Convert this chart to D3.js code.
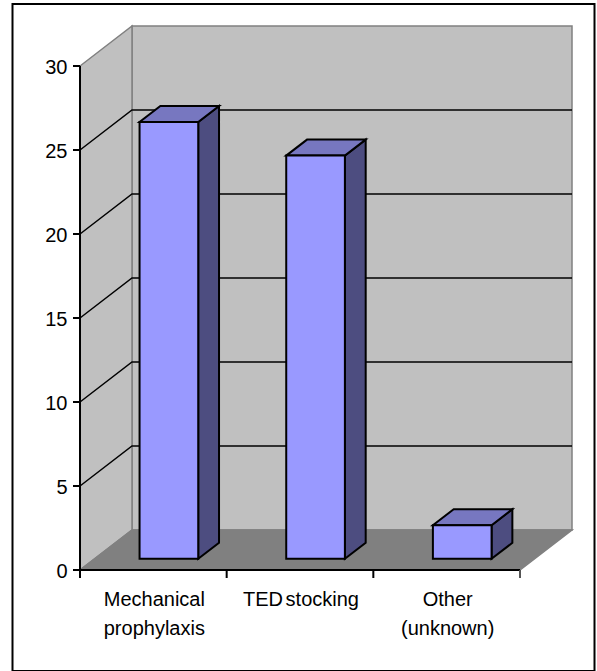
<!DOCTYPE html>
<html>
<head>
    <meta charset="utf-8">
    <title>Mechanical prophylaxis</title>
    <style>
        html, body { margin: 0; padding: 0; background: #fff; }
        svg { display: block; }
        text { font-family: "Liberation Sans", Arial, sans-serif; font-size: 20px; fill: #000; }
    </style>
</head>
<body>
<script src="https://cdn.jsdelivr.net/npm/d3@7"></script>
<script>
    // Valeurs du graphique
    var categories = ["Mechanical prophylaxis", "TED stocking", "Other (unknown)"];
    var labelLines = [["Mechanical", "prophylaxis"], ["TED stocking"], ["Other", "(unknown)"]];
    var values = [26, 24, 2];
    var yTicks = [0, 5, 10, 15, 20, 25, 30];

    var width = 597,
        height = 671,
        depthX = 52,
        depthY = 40;

    var svg = d3.select("body").append("svg")
        .attr("width", width)
        .attr("height", height);

    var x = d3.scaleBand().domain(categories).range([81, 521]).paddingInner(0.6).paddingOuter(0.3);
    var xStep = d3.scaleBand().domain(categories).range([80, 520]);
    var y = d3.scaleLinear().domain([0, 30]).range([570, 66]);

    // Projection oblique : d = 0 sur le plan avant, d = 1 sur le mur du fond
    function pt(px, v, d) {
        return [px + d * depthX, y(v) - d * depthY];
    }
    var line = d3.line();
    function poly(points, fill, stroke, sw) {
        return svg.append("path")
            .attr("d", line(points) + "Z")
            .attr("fill", fill)
            .attr("stroke", stroke || "none")
            .attr("stroke-width", sw || 0)
            .attr("stroke-linejoin", "miter");
    }
    function segment(points, stroke, sw) {
        return svg.append("path")
            .attr("d", line(points))
            .attr("fill", "none")
            .attr("stroke", stroke)
            .attr("stroke-width", sw);
    }

    // Cadre extérieur
    svg.append("rect")
        .attr("x", 12.5).attr("y", 4)
        .attr("width", 582).attr("height", 667)
        .attr("fill", "#fff").attr("stroke", "#000").attr("stroke-width", 2);

    var x0 = xStep.range()[0], x1 = xStep.range()[1];

    // Murs et sol
    poly([pt(x0, 0, 1), pt(x1, 0, 1), pt(x1, 30, 1), pt(x0, 30, 1)], "#c0c0c0", "#808080", 1.5);
    poly([pt(x0, 0, 0), pt(x0, 0, 1), pt(x0, 30, 1), pt(x0, 30, 0)], "#c0c0c0", "#808080", 1.5);
    poly([pt(x0, 0, 0), pt(x1, 0, 0), pt(x1, 0, 1), pt(x0, 0, 1)], "#808080", "#808080", 1.5);

    // Grille
    yTicks.filter(function(t) { return t > 0 && t < 30; }).forEach(function(t) {
        segment([pt(x0, t, 0), pt(x0, t, 1), pt(x1, t, 1)], "#000", 1.5);
    });

    // Barres 3D
    var front = 0.28, back = 0.68;
    categories.forEach(function(c, i) {
        var l = x(c), r = l + x.bandwidth(), v = values[i];
        poly([pt(r, 0, front), pt(r, 0, back), pt(r, v, back), pt(r, v, front)], "#4d4d80", "#000", 2);
        poly([pt(l, v, front), pt(r, v, front), pt(r, v, back), pt(l, v, back)], "#7777c0", "#000", 2);
        poly([pt(l, 0, front), pt(r, 0, front), pt(r, v, front), pt(l, v, front)], "#9999ff", "#000", 2);
    });

    // Axe Y
    segment([pt(x0, 0, 0), pt(x0, 30, 0)], "#000", 2);
    yTicks.forEach(function(t) {
        segment([[x0 - 7, y(t)], [x0, y(t)]], "#000", 2);
        svg.append("text")
            .attr("x", 67.5)
            .attr("y", y(t) + 8)
            .attr("text-anchor", "end")
            .text(t);
    });

    // Axe X
    segment([pt(x0, 0, 0), pt(x1, 0, 0)], "#000", 2);
    segment([[x0, y(0)], [x0, y(0) + 8]], "#000", 2);
    categories.forEach(function(c, i) {
        var right = xStep(c) + xStep.bandwidth();
        segment([[right, y(0)], [right, y(0) + 8]], i == 2 ? "#555" : "#000", 2);
        svg.append("text")
            .attr("text-anchor", "middle")
            .attr("word-spacing", i == 1 ? -3 : 0)
            .selectAll("tspan")
            .data(labelLines[i])
            .join("tspan")
            .attr("x", xStep(c) + xStep.bandwidth() / 2 + 1)
            .attr("y", function(d, j) { return 606 + j * 29; })
            .text(function(d) { return d; });
    });
</script>
</body>
</html>
